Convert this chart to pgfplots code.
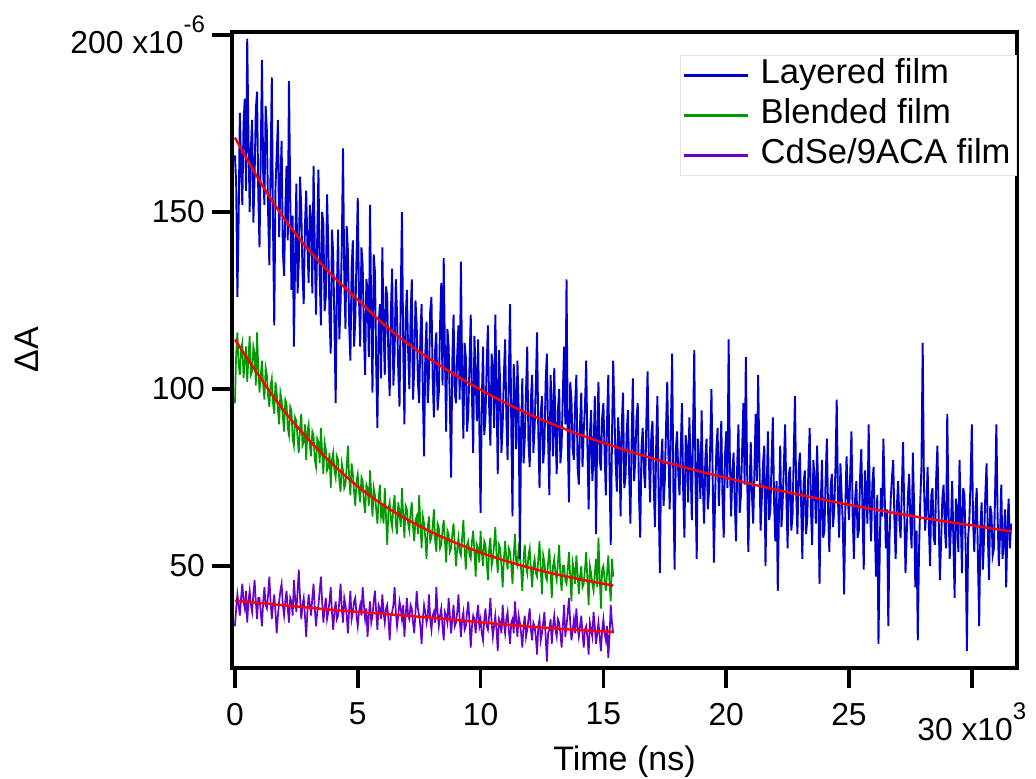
\documentclass[border=0pt]{standalone}
\usepackage{fontspec}
\setmainfont{Liberation Sans}
\usepackage{pgfplots}
\pgfplotsset{compat=1.18}
\definecolor{cblue}{RGB}{0,0,204}
\definecolor{cgreen}{RGB}{0,153,0}
\definecolor{cpurple}{RGB}{102,0,204}
\newcommand{\sxp}[1]{\raisebox{10.5pt}{\fontsize{12}{12}\selectfont #1}}
\newcommand{\sxs}[1]{\smash{\raisebox{10.5pt}{\fontsize{12}{12}\selectfont #1}}}
\begin{document}
\begin{tikzpicture}
\begin{axis}[
  scale only axis, width=392.5pt, height=318pt,
  xmin=-0.12, xmax=31.84, ymin=21.2, ymax=200.85,
  axis line style={line width=1.75pt},
  every tick/.style={line width=1.75pt, black},
  tick align=outside, major tick length=10pt,
  xtick pos=bottom, ytick pos=left,
  xtick={0,5,10,15,20,25},
  xticklabels={0,5,10,15,20,25},
  extra x ticks={30},
  extra x tick labels={{30 x10\sxs{3}}},
  extra x tick style={xticklabel style={yshift=-7.5pt}},
  ytick={50,100,150,200},
  yticklabels={50,100,150,{200 x10\sxp{-6}}},
  ticklabel style={font=\fontsize{15.9}{19}\selectfont},
  xticklabel style={yshift=-4pt},
  xlabel={Time (ns)}, ylabel={ΔA},
  label style={font=\fontsize{17}{20}\selectfont},
  xlabel style={at={(axis description cs:0.5,-0.1604)}, anchor=base},
  ylabel style={at={(axis description cs:-0.2471,0.5)}, anchor=base},
  legend style={at={(axis description cs:1,0.9638)}, anchor=north east, draw=black!10, fill=white,
    font=\fontsize{17.3}{20}\selectfont, cells={anchor=west},
    nodes={inner sep=1.5pt, text height=12pt, text depth=3.5pt},
    row sep=1.5pt, column sep=4pt, inner xsep=1.5pt, inner ysep=0.75pt},
]
\addlegendimage{legend image code/.code={\draw[color=cblue, draw=cblue, line width=1.2pt] (0pt,0pt) -- (32pt,0pt);}}
\addlegendentry{Layered film}
\addlegendimage{legend image code/.code={\draw[color=cgreen, draw=cgreen, line width=1.2pt] (0pt,0pt) -- (32pt,0pt);}}
\addlegendentry{Blended film}
\addlegendimage{legend image code/.code={\draw[color=cpurple, draw=cpurple, line width=1.2pt] (0pt,0pt) -- (32pt,0pt);}}
\addlegendentry{CdSe/9ACA film}

\addplot[cgreen, line width=0.85pt, forget plot] table[row sep=\\] {
x y\\
0.0 96\\0.05 110\\0.1 116\\0.15 107\\0.2 104\\0.25 111\\0.3 113\\0.35 103\\0.4 108\\0.45 112\\0.5 102\\0.55 109\\0.6 115\\0.65 104\\0.7 105\\0.75 112\\0.8 110\\0.85 101\\0.9 116\\0.95 106\\
1.0 99\\1.05 104\\1.1 108\\1.15 101\\1.2 97\\1.25 106\\1.3 104\\1.35 98\\1.4 95\\1.45 101\\1.5 103\\1.55 96\\1.6 93\\1.65 102\\1.7 99\\1.75 94\\1.8 90\\1.85 99\\1.9 97\\1.95 92\\
2.0 88\\2.05 97\\2.1 96\\2.15 89\\2.2 87\\2.25 95\\2.3 94\\2.35 86\\2.4 84\\2.45 92\\2.5 91\\2.55 86\\2.6 82\\2.65 89\\2.7 93\\2.75 84\\2.8 85\\2.85 90\\2.9 80\\2.95 88\\
3.0 90\\3.05 84\\3.1 81\\3.15 88\\3.2 87\\3.25 80\\3.3 78\\3.35 86\\3.4 85\\3.45 79\\3.5 89\\3.55 82\\3.6 76\\3.65 85\\3.7 83\\3.75 77\\3.8 78\\3.85 82\\3.9 72\\3.95 80\\
4.0 82\\4.05 77\\4.1 75\\4.15 81\\4.2 80\\4.25 74\\4.3 71\\4.35 79\\4.4 77\\4.45 72\\4.5 73\\4.55 78\\4.6 84\\4.65 75\\4.7 70\\4.75 79\\4.8 76\\4.85 71\\4.9 67\\4.95 74\\
5.0 76\\5.05 71\\5.1 68\\5.15 75\\5.2 74\\5.25 68\\5.3 65\\5.35 73\\5.4 72\\5.45 67\\5.5 77\\5.55 70\\5.6 64\\5.65 72\\5.7 70\\5.75 66\\5.8 62\\5.85 69\\5.9 73\\5.95 64\\
6.0 66\\6.05 62\\6.1 72\\6.15 64\\6.2 56\\6.25 66\\6.3 68\\6.35 63\\6.4 61\\6.45 67\\6.5 70\\6.55 62\\6.6 59\\6.65 68\\6.7 65\\6.75 61\\6.8 72\\6.85 64\\6.9 58\\6.95 67\\
7.0 66\\7.05 62\\7.1 60\\7.15 65\\7.2 68\\7.25 61\\7.3 57\\7.35 63\\7.4 64\\7.45 59\\7.5 70\\7.55 62\\7.6 55\\7.65 64\\7.7 62\\7.75 58\\7.8 52\\7.85 61\\7.9 64\\7.95 57\\
8.0 58\\8.05 61\\8.1 66\\8.15 57\\8.2 54\\8.25 62\\8.3 61\\8.35 55\\8.4 56\\8.45 60\\8.5 63\\8.55 57\\8.6 51\\8.65 60\\8.7 59\\8.75 54\\8.8 55\\8.85 59\\8.9 62\\8.95 56\\
9.0 50\\9.05 55\\9.1 58\\9.15 54\\9.2 53\\9.25 58\\9.3 63\\9.35 55\\9.4 49\\9.45 56\\9.5 57\\9.55 53\\9.6 52\\9.65 57\\9.7 60\\9.75 54\\9.8 47\\9.85 56\\9.9 55\\9.95 51\\
10.0 60\\10.05 54\\10.1 50\\10.15 57\\10.2 56\\10.25 51\\10.3 46\\10.35 55\\10.4 58\\10.45 50\\10.5 52\\10.55 56\\10.6 61\\10.65 53\\10.7 48\\10.75 56\\10.8 55\\10.85 50\\10.9 44\\10.95 52\\
11.0 57\\11.05 52\\11.1 49\\11.15 55\\11.2 54\\11.25 50\\11.3 45\\11.35 53\\11.4 59\\11.45 51\\11.5 50\\11.55 55\\11.6 53\\11.65 49\\11.7 43\\11.75 52\\11.8 56\\11.85 50\\11.9 48\\11.95 53\\
12.0 55\\12.05 49\\12.1 44\\12.15 50\\12.2 52\\12.25 48\\12.3 47\\12.35 52\\12.4 57\\12.45 49\\12.5 42\\12.55 53\\12.6 51\\12.65 47\\12.7 46\\12.75 51\\12.8 55\\12.85 48\\12.9 41\\12.95 50\\
13.0 52\\13.05 48\\13.1 46\\13.15 51\\13.2 56\\13.25 47\\13.3 43\\13.35 50\\13.4 50\\13.45 46\\13.5 45\\13.55 49\\13.6 54\\13.65 47\\13.7 40\\13.75 51\\13.8 49\\13.85 45\\13.9 53\\13.95 48\\
14.0 42\\14.05 47\\14.1 50\\14.15 44\\14.2 45\\14.25 49\\14.3 54\\14.35 46\\14.4 39\\14.45 50\\14.5 48\\14.55 45\\14.6 43\\14.65 48\\14.7 52\\14.75 44\\14.8 58\\14.85 47\\14.9 38\\14.95 49\\
15.0 50\\15.05 46\\15.1 43\\15.15 48\\15.2 53\\15.25 45\\15.3 40\\15.35 52\\15.4 47\\
};

\addplot[cpurple, line width=0.85pt, forget plot] table[row sep=\\] {
x y\\
0.0 33\\0.05 38\\0.1 42\\0.15 39\\0.2 36\\0.25 41\\0.3 45\\0.35 40\\0.4 38\\0.45 43\\0.5 34\\0.55 40\\0.6 43\\0.65 39\\0.7 37\\0.75 42\\0.8 46\\0.85 40\\0.9 35\\0.95 41\\
1.0 41\\1.05 37\\1.1 33\\1.15 40\\1.2 44\\1.25 39\\1.3 38\\1.35 42\\1.4 47\\1.45 40\\1.5 35\\1.55 39\\1.6 42\\1.65 37\\1.7 31\\1.75 36\\1.8 40\\1.85 43\\1.9 45\\1.95 39\\
2.0 36\\2.05 40\\2.1 43\\2.15 38\\2.2 34\\2.25 41\\2.3 40\\2.35 36\\2.4 46\\2.45 41\\2.5 37\\2.55 43\\2.6 49\\2.65 41\\2.7 35\\2.75 39\\2.8 41\\2.85 36\\2.9 30\\2.95 37\\
3.0 42\\3.05 39\\3.1 36\\3.15 41\\3.2 45\\3.25 38\\3.3 33\\3.35 37\\3.4 39\\3.45 43\\3.5 47\\3.55 40\\3.6 34\\3.65 38\\3.7 41\\3.75 35\\3.8 37\\3.85 40\\3.9 44\\3.95 37\\
4.0 32\\4.05 37\\4.1 40\\4.15 35\\4.2 36\\4.25 40\\4.3 45\\4.35 38\\4.4 34\\4.45 41\\4.5 39\\4.55 36\\4.6 31\\4.65 38\\4.7 43\\4.75 35\\4.8 37\\4.85 40\\4.9 41\\4.95 36\\
5.0 33\\5.05 37\\5.1 39\\5.15 36\\5.2 44\\5.25 39\\5.3 35\\5.35 38\\5.4 30\\5.45 36\\5.5 40\\5.55 34\\5.6 36\\5.65 40\\5.7 43\\5.75 37\\5.8 32\\5.85 39\\5.9 38\\5.95 35\\
6.0 42\\6.05 37\\6.1 34\\6.15 38\\6.2 39\\6.25 35\\6.3 29\\6.35 36\\6.4 37\\6.45 39\\6.5 44\\6.55 37\\6.6 33\\6.65 36\\6.7 40\\6.75 38\\6.8 35\\6.85 39\\6.9 30\\6.95 36\\
7.0 41\\7.05 36\\7.1 35\\7.15 39\\7.2 38\\7.25 34\\7.3 31\\7.35 37\\7.4 43\\7.45 38\\7.5 36\\7.55 33\\7.6 28\\7.65 35\\7.7 39\\7.75 37\\7.8 34\\7.85 36\\7.9 42\\7.95 35\\
8.0 32\\8.05 36\\8.1 37\\8.15 34\\8.2 44\\8.25 37\\8.3 33\\8.35 36\\8.4 38\\8.45 33\\8.5 29\\8.55 37\\8.6 36\\8.65 34\\8.7 41\\8.75 36\\8.8 31\\8.85 35\\8.9 39\\8.95 33\\
9.0 34\\9.05 37\\9.1 42\\9.15 35\\9.2 30\\9.25 35\\9.3 37\\9.35 32\\9.4 33\\9.45 37\\9.5 40\\9.55 34\\9.6 27\\9.65 33\\9.7 36\\9.75 35\\9.8 31\\9.85 36\\9.9 39\\9.95 33\\
10.0 35\\10.05 31\\10.1 29\\10.15 35\\10.2 38\\10.25 33\\10.3 32\\10.35 36\\10.4 41\\10.45 34\\10.5 30\\10.55 33\\10.6 36\\10.65 32\\10.7 26\\10.75 35\\10.8 34\\10.85 31\\10.9 39\\10.95 34\\
11.0 31\\11.05 35\\11.1 37\\11.15 32\\11.2 28\\11.25 34\\11.3 35\\11.35 31\\11.4 40\\11.45 35\\11.5 30\\11.55 36\\11.6 34\\11.65 31\\11.7 27\\11.75 33\\11.8 36\\11.85 30\\11.9 32\\11.95 35\\
12.0 38\\12.05 32\\12.1 29\\12.15 34\\12.2 33\\12.25 30\\12.3 25\\12.35 33\\12.4 35\\12.45 29\\12.5 31\\12.55 34\\12.6 37\\12.65 30\\12.7 23\\12.75 31\\12.8 32\\12.85 35\\12.9 28\\12.95 33\\
13.0 36\\13.05 32\\13.1 30\\13.15 35\\13.2 34\\13.25 31\\13.3 27\\13.35 33\\13.4 39\\13.45 30\\13.5 33\\13.55 37\\13.6 41\\13.65 34\\13.7 29\\13.75 32\\13.8 35\\13.85 31\\13.9 38\\13.95 33\\
14.0 30\\14.05 33\\14.1 36\\14.15 31\\14.2 27\\14.25 32\\14.3 33\\14.35 30\\14.4 25\\14.45 34\\14.5 32\\14.55 30\\14.6 37\\14.65 33\\14.7 28\\14.75 31\\14.8 34\\14.85 30\\14.9 26\\14.95 32\\
15.0 35\\15.05 31\\15.1 29\\15.15 33\\15.2 24\\15.25 30\\15.3 39\\15.35 34\\15.4 31\\
};

\addplot[cblue, line width=0.95pt, forget plot] table[row sep=\\] {
x y\\
0.0 166\\0.05 158\\0.1 126\\0.15 148\\0.2 178\\0.25 163\\0.3 152\\0.35 175\\0.4 182\\0.45 156\\0.5 199\\0.55 171\\0.6 150\\0.65 168\\0.7 176\\0.75 147\\0.8 160\\0.85 179\\0.9 184\\0.95 155\\
1.0 140\\1.05 166\\1.1 193\\1.15 161\\1.2 152\\1.25 180\\1.3 173\\1.35 150\\1.4 135\\1.45 162\\1.5 188\\1.55 146\\1.6 118\\1.65 157\\1.7 166\\1.75 176\\1.8 143\\1.85 158\\1.9 170\\1.95 139\\
2.0 132\\2.05 150\\2.1 163\\2.15 142\\2.2 187\\2.25 155\\2.3 128\\2.35 149\\2.4 112\\2.45 137\\2.5 158\\2.55 127\\2.6 136\\2.65 160\\2.7 151\\2.75 133\\2.8 124\\2.85 146\\2.9 156\\2.95 141\\
3.0 130\\3.05 152\\3.1 148\\3.15 127\\3.2 163\\3.25 140\\3.3 121\\3.35 143\\3.4 162\\3.45 132\\3.5 118\\3.55 150\\3.6 147\\3.65 122\\3.7 126\\3.75 155\\3.8 141\\3.85 120\\3.9 110\\3.95 145\\
4.0 138\\4.05 119\\4.1 96\\4.15 128\\4.2 145\\4.25 114\\4.3 124\\4.35 140\\4.4 168\\4.45 132\\4.5 117\\4.55 146\\4.6 139\\4.65 118\\4.7 108\\4.75 134\\4.8 142\\4.85 112\\4.9 120\\4.95 137\\
5.0 154\\5.05 126\\5.1 112\\5.15 140\\5.2 135\\5.25 116\\5.3 104\\5.35 131\\5.4 128\\5.45 109\\5.5 152\\5.55 120\\5.6 99\\5.65 138\\5.7 133\\5.75 107\\5.8 89\\5.85 118\\5.9 124\\5.95 103\\
6.0 140\\6.05 118\\6.1 104\\6.15 129\\6.2 126\\6.25 108\\6.3 98\\6.35 122\\6.4 134\\6.45 101\\6.5 110\\6.55 131\\6.6 121\\6.65 105\\6.7 95\\6.75 126\\6.8 150\\6.85 112\\6.9 90\\6.95 120\\
7.0 128\\7.05 111\\7.1 100\\7.15 120\\7.2 131\\7.25 97\\7.3 106\\7.35 125\\7.4 118\\7.45 102\\7.5 96\\7.55 115\\7.6 124\\7.65 99\\7.7 81\\7.75 110\\7.8 119\\7.85 96\\7.9 104\\7.95 122\\
8.0 126\\8.05 103\\8.1 92\\8.15 111\\8.2 116\\8.25 94\\8.3 99\\8.35 118\\8.4 130\\8.45 101\\8.5 137\\8.55 109\\8.6 88\\8.65 117\\8.7 112\\8.75 96\\8.8 75\\8.85 108\\8.9 121\\8.95 99\\
9.0 96\\9.05 110\\9.1 118\\9.15 97\\9.2 136\\9.25 104\\9.3 86\\9.35 113\\9.4 109\\9.45 88\\9.5 93\\9.55 107\\9.6 121\\9.65 98\\9.7 82\\9.75 115\\9.8 104\\9.85 91\\9.9 114\\9.95 89\\
10.0 65\\10.05 96\\10.1 112\\10.15 87\\10.2 92\\10.25 107\\10.3 118\\10.35 95\\10.4 84\\10.45 110\\10.5 106\\10.55 89\\10.6 121\\10.65 99\\10.7 76\\10.75 111\\10.8 101\\10.85 82\\10.9 90\\10.95 104\\
11.0 114\\11.05 92\\11.1 80\\11.15 103\\11.2 124\\11.25 90\\11.3 64\\11.35 107\\11.4 99\\11.45 83\\11.5 108\\11.55 95\\11.6 52\\11.65 88\\11.7 103\\11.75 79\\11.8 86\\11.85 99\\11.9 112\\11.95 85\\
12.0 78\\12.05 97\\12.1 104\\12.15 82\\12.2 89\\12.25 101\\12.3 116\\12.35 88\\12.4 72\\12.45 93\\12.5 98\\12.55 79\\12.6 84\\12.65 102\\12.7 110\\12.75 86\\12.8 70\\12.85 104\\12.9 95\\12.95 81\\
13.0 106\\13.05 88\\13.1 76\\13.15 94\\13.2 100\\13.25 79\\13.3 84\\13.35 99\\13.4 112\\13.45 90\\13.5 131\\13.55 86\\13.6 68\\13.65 102\\13.7 97\\13.75 83\\13.8 80\\13.85 96\\13.9 104\\13.95 78\\
14.0 73\\14.05 90\\14.1 99\\14.15 78\\14.2 88\\14.25 95\\14.3 108\\14.35 84\\14.4 66\\14.45 87\\14.5 94\\14.55 74\\14.6 81\\14.65 98\\14.7 59\\14.75 89\\14.8 102\\14.85 80\\14.9 77\\14.95 92\\
15.0 96\\15.05 82\\15.1 70\\15.15 91\\15.2 104\\15.25 77\\15.3 56\\15.35 86\\15.4 108\\15.45 93\\15.5 79\\15.55 71\\15.6 92\\15.65 85\\15.7 64\\15.75 90\\15.8 99\\15.85 72\\15.9 75\\15.95 88\\
16.0 94\\16.05 76\\16.1 62\\16.15 85\\16.2 103\\16.25 74\\16.3 80\\16.35 92\\16.4 96\\16.45 70\\16.5 58\\16.55 83\\16.6 89\\16.65 77\\16.7 72\\16.75 91\\16.8 105\\16.85 81\\16.9 68\\16.95 87\\
17.0 91\\17.05 73\\17.1 61\\17.15 84\\17.2 98\\17.25 70\\17.3 48\\17.35 79\\17.4 86\\17.45 67\\17.5 74\\17.55 89\\17.6 102\\17.65 81\\17.7 66\\17.75 90\\17.8 110\\17.85 72\\17.9 49\\17.95 83\\
18.0 88\\18.05 76\\18.1 70\\18.15 83\\18.2 96\\18.25 71\\18.3 58\\18.35 87\\18.4 84\\18.45 68\\18.5 92\\18.55 79\\18.6 63\\18.65 88\\18.7 111\\18.75 74\\18.8 52\\18.85 86\\18.9 80\\18.95 69\\
19.0 94\\19.05 73\\19.1 62\\19.15 80\\19.2 86\\19.25 66\\19.3 71\\19.35 84\\19.4 100\\19.45 75\\19.5 51\\19.55 70\\19.6 83\\19.65 89\\19.7 67\\19.75 78\\19.8 91\\19.85 69\\19.9 58\\19.95 81\\
20.0 88\\20.05 72\\20.1 114\\20.15 80\\20.2 64\\20.25 76\\20.3 82\\20.35 68\\20.4 57\\20.45 79\\20.5 90\\20.55 65\\20.6 70\\20.65 83\\20.7 96\\20.75 73\\20.8 109\\20.85 78\\20.9 54\\20.95 71\\
21.0 85\\21.05 70\\21.1 62\\21.15 77\\21.2 93\\21.25 74\\21.3 104\\21.35 81\\21.4 60\\21.45 69\\21.5 79\\21.55 84\\21.6 50\\21.65 72\\21.7 88\\21.75 63\\21.8 66\\21.85 80\\21.9 92\\21.95 68\\
22.0 57\\22.05 74\\22.1 43\\22.15 66\\22.2 84\\22.25 61\\22.3 68\\22.35 79\\22.4 90\\22.45 70\\22.5 55\\22.55 76\\22.6 78\\22.65 60\\22.7 64\\22.75 81\\22.8 98\\22.85 71\\22.9 59\\22.95 77\\
23.0 82\\23.05 68\\23.1 52\\23.15 73\\23.2 77\\23.25 59\\23.3 63\\23.35 78\\23.4 89\\23.45 66\\23.5 56\\23.55 80\\23.6 74\\23.65 62\\23.7 84\\23.75 71\\23.8 45\\23.85 67\\23.9 80\\23.95 58\\
24.0 60\\24.05 75\\24.1 86\\24.15 65\\24.2 54\\24.25 72\\24.3 76\\24.35 61\\24.4 66\\24.45 78\\24.5 97\\24.55 69\\24.6 58\\24.65 79\\24.7 70\\24.75 62\\24.8 42\\24.85 66\\24.9 81\\24.95 70\\
25.0 63\\25.05 76\\25.1 88\\25.15 64\\25.2 52\\25.25 69\\25.3 74\\25.35 58\\25.4 60\\25.45 75\\25.5 83\\25.55 66\\25.6 49\\25.65 77\\25.7 71\\25.75 62\\25.8 90\\25.85 68\\25.9 57\\25.95 73\\
26.0 78\\26.05 62\\26.1 47\\26.15 70\\26.2 28\\26.25 54\\26.3 72\\26.35 64\\26.4 86\\26.45 71\\26.5 55\\26.55 66\\26.6 33\\26.65 58\\26.7 69\\26.75 75\\26.8 80\\26.85 63\\26.9 52\\26.95 67\\
27.0 74\\27.05 63\\27.1 58\\27.15 71\\27.2 85\\27.25 66\\27.3 48\\27.35 59\\27.4 70\\27.45 76\\27.5 62\\27.55 55\\27.6 82\\27.65 67\\27.7 44\\27.75 60\\27.8 29\\27.85 54\\27.9 68\\27.95 78\\
28.0 113\\28.05 74\\28.1 60\\28.15 66\\28.2 78\\28.25 62\\28.3 50\\28.35 70\\28.4 72\\28.45 58\\28.5 56\\28.55 75\\28.6 84\\28.65 64\\28.7 46\\28.75 57\\28.8 69\\28.85 73\\28.9 61\\28.95 55\\
29.0 93\\29.05 67\\29.1 52\\29.15 61\\29.2 74\\29.25 57\\29.3 41\\29.35 69\\29.4 66\\29.45 54\\29.5 80\\29.55 64\\29.6 48\\29.65 72\\29.7 70\\29.75 55\\29.8 26\\29.85 58\\29.9 63\\29.95 74\\
30.0 90\\30.05 63\\30.1 54\\30.15 66\\30.2 72\\30.25 52\\30.3 33\\30.35 61\\30.4 68\\30.45 49\\30.5 58\\30.55 70\\30.6 79\\30.65 60\\30.7 46\\30.75 67\\30.8 65\\30.85 53\\30.9 55\\30.95 71\\
31.0 90\\31.05 64\\31.1 50\\31.15 59\\31.2 73\\31.25 52\\31.3 57\\31.35 66\\31.4 44\\31.45 61\\31.5 69\\31.55 55\\31.6 62\\
};

\addplot[red, line width=1.2pt, smooth, forget plot] coordinates {
(0,171) (1,158.8) (2,148.2) (3,139.3) (4,131.8) (5,125.2) (6,118.6) (7,113) (8,108.2)
(9,103.8) (10,99.8) (11,96.1) (12,92.8) (13,89.9) (14,87.2) (15,84.8) (16,82.5)
(17,80.4) (18,78.4) (19,76.6) (20,74.9) (21,73.2) (22,71.6) (23,70.1) (24,68.7)
(25,67.3) (26,66) (27,64.8) (28,63.6) (29,62.5) (30,61.5) (31,60.4) (31.6,59.8)
};
\addplot[red, line width=1.2pt, smooth, forget plot] coordinates {
(0,114) (1,103.5) (2,93.8) (3,85.7) (4,78.6) (5,72.5) (6,67.4) (7,63.2) (8,59.6)
(9,56.5) (10,53.8) (11,51.5) (12,49.5) (13,47.8) (14,46.3) (15,45) (15.4,44.5)
};
\addplot[red, line width=1.2pt, smooth, forget plot] coordinates {
(0,40.2) (2,38.9) (4,37.6) (6,36.5) (8,35.4) (10,34.1) (12,32.9) (14,31.9) (15.4,31.4)
};
\end{axis}
\pgfresetboundingbox
\path[use as bounding box] ([xshift=-116pt,yshift=-55.5pt]current axis.south west) rectangle ([xshift=9.5pt,yshift=16pt]current axis.north east);
\end{tikzpicture}
\end{document}
